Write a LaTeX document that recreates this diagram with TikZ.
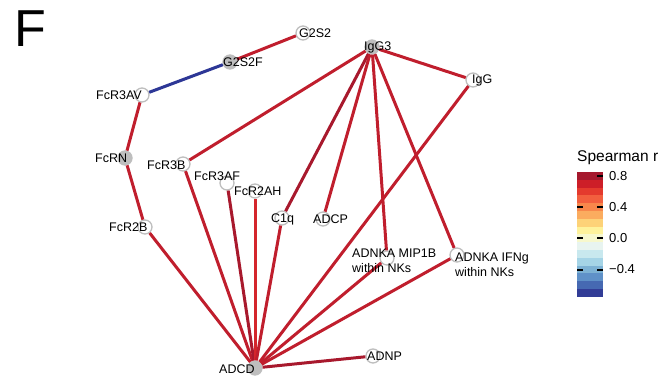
\documentclass[tikz,border=0pt]{standalone}
\usepackage{fontspec}
\setmainfont{Liberation Sans}
\definecolor{edgemid}{RGB}{192,30,45}
\definecolor{edgedark}{RGB}{168,25,45}
\definecolor{edgebright}{RGB}{212,38,44}
\definecolor{edgeblue}{RGB}{45,55,150}
\definecolor{vtxgray}{RGB}{190,190,190}
\definecolor{b1}{RGB}{165,24,45}
\definecolor{b2}{RGB}{205,30,40}
\definecolor{b3}{RGB}{228,58,45}
\definecolor{b4}{RGB}{242,95,62}
\definecolor{b5}{RGB}{248,135,75}
\definecolor{b6}{RGB}{251,172,95}
\definecolor{b7}{RGB}{253,210,120}
\definecolor{b8}{RGB}{254,242,155}
\definecolor{b9}{RGB}{247,248,205}
\definecolor{b10}{RGB}{232,244,240}
\definecolor{b11}{RGB}{200,232,238}
\definecolor{b12}{RGB}{165,212,230}
\definecolor{b13}{RGB}{125,178,212}
\definecolor{b14}{RGB}{95,145,200}
\definecolor{b15}{RGB}{70,105,178}
\definecolor{b16}{RGB}{50,60,150}
\tikzset{
  vtx/.style={circle, draw=vtxgray, line width=1.3pt, fill=white, minimum size=14pt, inner sep=0pt},
  vtxf/.style={vtx, fill=vtxgray},
  lbl/.style={inner sep=0pt, anchor=west, font=\fontsize{12.5}{15}\selectfont},
  corr/.style={line width=3pt, edgemid},
}
\begin{document}
\begin{tikzpicture}[x=1pt,y=-1pt]
\useasboundingbox (0,0) rectangle (666,377);
\node[inner sep=0pt, anchor=base west, font=\fontsize{52}{52}\selectfont] (panel) at (14,47) {F};
% vertices
   \node[vtx]  (g2s2)   at (303,33)  {};
   \node[vtxf] (g2s2f)  at (230,62)  {};
   \node[vtx]  (fcr3av) at (142,95)  {};
   \node[vtxf] (fcrn)   at (125,158) {};
   \node[vtx]  (fcr3b)  at (183,164) {};
   \node[vtx]  (fcr3af) at (227,183) {};
   \node[vtx]  (fcr2ah) at (255,191) {};
   \node[vtx]  (c1q)    at (282,218) {};
   \node[vtx]  (adcp)   at (323,219) {};
   \node[vtx]  (fcr2b)  at (145,227) {};
   \node[vtx]  (mip1b)  at (387,258) {};
   \node[vtx]  (ifng)   at (457,255) {};
   \node[vtx]  (adnp)   at (373,356) {};
   \node[vtxf] (adcd)   at (255,368) {};
   \node[vtxf] (igg3)   at (372,47)  {};
   \node[vtx]  (igg)    at (473,80)  {};
% correlations
   \draw[corr] (g2s2) -- (g2s2f);
   \draw[corr,edgeblue] (g2s2f) -- (fcr3av);
   \draw[corr] (fcr3av) -- (fcrn);
   \draw[corr] (fcrn) -- (fcr2b);
   \draw[corr] (fcr2b) -- (adcd);
   \draw[corr] (fcr3b) -- (adcd);
   \draw[corr,edgedark] (fcr3af) -- (adcd);
   \draw[corr,edgebright] (fcr2ah) -- (adcd);
   \draw[corr] (c1q) -- (adcd);
   \draw[corr] (igg) -- (adcd);
   \draw[corr] (mip1b) -- (adcd);
   \draw[corr] (ifng) -- (adcd);
   \draw[corr,edgedark] (adnp) -- (adcd);
   \draw[corr] (igg3) -- (fcr3b);
   \draw[corr,edgedark] (igg3) -- (c1q);
   \draw[corr] (igg3) -- (adcp);
   \draw[corr] (igg3) -- (mip1b);
   \draw[corr] (igg3) -- (ifng);
   \draw[corr] (igg3) -- (igg);
% labels
   \node[lbl] (g2s2-t)   at (299,33)  {G2S2};
   \node[lbl] (g2s2f-t)  at (223,62)  {G2S2F};
   \node[lbl] (fcr3av-t) at (96,95)   {FcR3AV};
   \node[lbl] (fcrn-t)   at (95,158)  {FcRN};
   \node[lbl] (fcr3b-t)  at (147,165) {FcR3B};
   \node[lbl] (fcr3af-t) at (194,176) {FcR3AF};
   \node[lbl] (fcr2ah-t) at (234,191) {FcR2AH};
   \node[lbl] (c1q-t)    at (271,219) {C1q};
   \node[lbl] (adcp-t)   at (313,219) {ADCP};
   \node[lbl] (fcr2b-t)  at (109,227) {FcR2B};
   \node[lbl,align=left] (mip1b-t) at (352,261) {ADNKA MIP1B\\within NKs};
   \node[lbl,align=left] (ifng-t)  at (455,265) {ADNKA IFNg\\within NKs};
   \node[lbl] (adnp-t)   at (367,356) {ADNP};
   \node[lbl] (adcd-t)   at (219,369) {ADCD};
   \node[lbl] (igg3-t)   at (364,47)  {IgG3};
   \node[lbl] (igg-t)    at (472,80)  {IgG};
% colour key
   \node[lbl,font=\fontsize{15.5}{18}\selectfont] (keytitle) at (577,158) {Spearman r};
   \foreach \i in {1,...,16}
      \fill[b\i] (577,{172+7.8*(\i-1)}) rectangle (603,{172+7.8*\i});
   \draw[line width=2pt] (597,175.9) -- (603,175.9);
   \foreach \y in {207.1,238.3,269.5} {
      \draw[line width=2pt] (577,\y) -- (583,\y);
      \draw[line width=2pt] (597,\y) -- (603,\y);
   }
   \node[lbl,font=\fontsize{13}{15}\selectfont] (k08) at (609,175.9) {0.8};
   \node[lbl,font=\fontsize{13}{15}\selectfont] (k04) at (609,207.1) {0.4};
   \node[lbl,font=\fontsize{13}{15}\selectfont] (k00) at (609,238.3) {0.0};
   \node[lbl,font=\fontsize{13}{15}\selectfont] (km04) at (609,269.5) {−0.4};
\end{tikzpicture}
\end{document}
